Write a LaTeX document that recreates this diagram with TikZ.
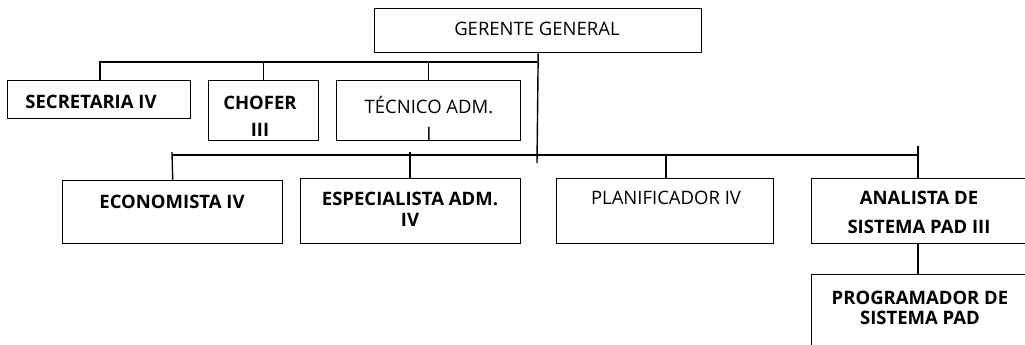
\documentclass[tikz,border=0pt]{standalone}
\usepackage{fontspec}
\setmainfont{Open Sans}
\begin{document}
\begin{tikzpicture}[x=1pt,y=-1pt,
  box/.style={draw,line width=1.4pt,anchor=north west,inner sep=0pt},
  txt/.style={inner sep=0pt,align=center,font=\fontsize{18.5}{27}\selectfont},
  btxt/.style={txt,font=\fontsize{18.5}{27}\selectfont\bfseries},
  wire/.style={line width=1.4pt}]
\useasboundingbox (0,0) rectangle (1025,345);
\clip (0,0) rectangle (1025,345);
\fill[white] (0,0) rectangle (1025,345);
% boxes
\node[box,minimum width=327pt,minimum height=44pt] (gg) at (374,8) {};
\node[box,minimum width=183pt,minimum height=38pt] (sec) at (7,80) {};
\node[box,minimum width=110pt,minimum height=60pt] (cho) at (208,80) {};
\node[box,minimum width=184pt,minimum height=60pt] (tec) at (336,80) {};
\node[box,minimum width=220pt,minimum height=63pt] (eco) at (62,180) {};
\node[box,minimum width=220pt,minimum height=65pt] (esp) at (300,178) {};
\node[box,minimum width=217pt,minimum height=65pt] (pla) at (556,178) {};
\node[box,minimum width=230pt,minimum height=65pt] (ana) at (811,178) {};
\node[box,minimum width=230pt,minimum height=90pt] (prog) at (811,274) {};
% labels
\node[txt] (gg-t) at (537,29) {GERENTE GENERAL};
\node[btxt] (sec-t) at (91,102) {SECRETARIA IV};
\node[btxt,anchor=north] (cho-t) at (260,96) {CHOFER\\III};
\node[txt,anchor=north] (tec-t) at (429,96) {TÉCNICO ADM.\\I};
\node[btxt] (eco-t) at (172,202) {ECONOMISTA IV};
\node[btxt,anchor=north,font=\fontsize{18.5}{21}\selectfont\bfseries] (esp-t) at (410,192) {ESPECIALISTA ADM.\\IV};
\node[txt] (pla-t) at (666,198) {PLANIFICADOR IV};
\node[btxt,anchor=north,font=\fontsize{18.5}{29}\selectfont\bfseries] (ana-t) at (919,191) {ANALISTA DE\\SISTEMA PAD III};
\node[btxt,anchor=north,font=\fontsize{18.5}{20}\selectfont\bfseries] (prog-t) at (920,291) {PROGRAMADOR DE\\SISTEMA PAD};
% connector points
\coordinate (b1) at (537,62);
\coordinate (trunk) at (537,163);
\coordinate (b2l) at (172,152);
\coordinate (b2m) at (410,152);
\coordinate (b2r) at (918,146);
\coordinate (b2y) at (0,155);
% upper level
\draw[wire] (gg.south) -- (trunk);
\draw[wire] (sec.north -| 100,0) |- (b1);
\draw[wire] (cho.north) -- (cho.north |- b1);
\draw[wire] (tec.north) -- (tec.north |- b1);
% lower level
\draw[wire] (b2l |- b2y) -- (b2r |- b2y);
\draw[wire] (eco.north) -- (b2l);
\draw[wire] (esp.north -| b2m) -- (b2m);
\draw[wire] (pla.north -| 666,0) -- (666,155);
\draw[wire] (ana.north -| b2r) -- (b2r);
\draw[wire] (ana.south -| b2r) -- (prog.north -| b2r);
\end{tikzpicture}
\end{document}
